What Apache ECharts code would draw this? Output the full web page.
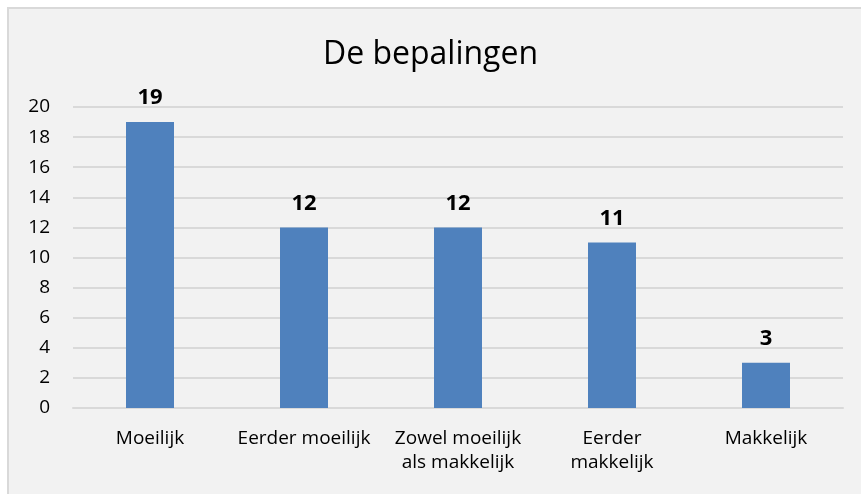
<!DOCTYPE html>
<html lang="nl">
<head>
    <meta charset="utf-8" />
    <title>De bepalingen</title>
    <script src="https://cdn.jsdelivr.net/npm/echarts@6/dist/echarts.min.js"></script>
    <style>
        html, body { margin: 0; padding: 0; background: #fff; overflow: hidden; }
        #frame { position: absolute; left: 7px; top: 7px; width: 860px; height: 495px;
                 border-left: 2px solid #d9d9d9; border-top: 2px solid #d9d9d9; background: #f2f2f2; }
        #main { width: 861px; height: 494px; position: absolute; left: 0; top: 0; }
    </style>
    <script>
        var categories = ['Moeilijk', 'Eerder moeilijk', 'Zowel moeilijk\nals makkelijk', 'Eerder\nmakkelijk', 'Makkelijk'];
        var counts = [19, 12, 12, 11, 3];
        var yTicks = [0, 20, 2];   // min, max, stap
    </script>
</head>
<body>
    <div id="frame"></div>
    <div id="main"></div>
    <script>
        var myChart = echarts.init(document.getElementById('main'));
        var font = 'Open Sans, Noto Sans, sans-serif';

        var option = {
            backgroundColor: 'transparent',
            animation: false,
            title: {
                text: 'De bepalingen',
                left: 'center',
                top: 34,
                textStyle: { fontFamily: font, fontSize: 32, fontWeight: 'normal', color: '#000' }
            },
            grid: { left: 73, right: 18, top: 107, bottom: 86 },
            xAxis: {
                type: 'category',
                data: categories,
                axisTick: { show: false },
                axisLine: { lineStyle: { color: '#d9d9d9', width: 2 } },
                axisLabel: { fontFamily: font, fontSize: 19, color: '#000', margin: 19, lineHeight: 24, interval: 0 }
            },
            yAxis: {
                type: 'value',
                min: yTicks[0],
                max: yTicks[1],
                interval: yTicks[2],
                axisLine: { show: false },
                axisTick: { show: false },
                splitLine: { lineStyle: { color: '#d9d9d9', width: 2 } },
                axisLabel: { fontFamily: font, fontSize: 19, color: '#000', margin: 23 }
            },
            series: [{
                type: 'bar',
                data: counts,
                barWidth: 48,
                itemStyle: { color: '#4f81bd' },
                label: {
                    show: true,
                    position: 'top',
                    distance: 13,
                    fontFamily: font,
                    fontSize: 22,
                    fontWeight: 'bold',
                    color: '#000'
                }
            }]
        };
        myChart.setOption(option);
    </script>
</body>
</html>
